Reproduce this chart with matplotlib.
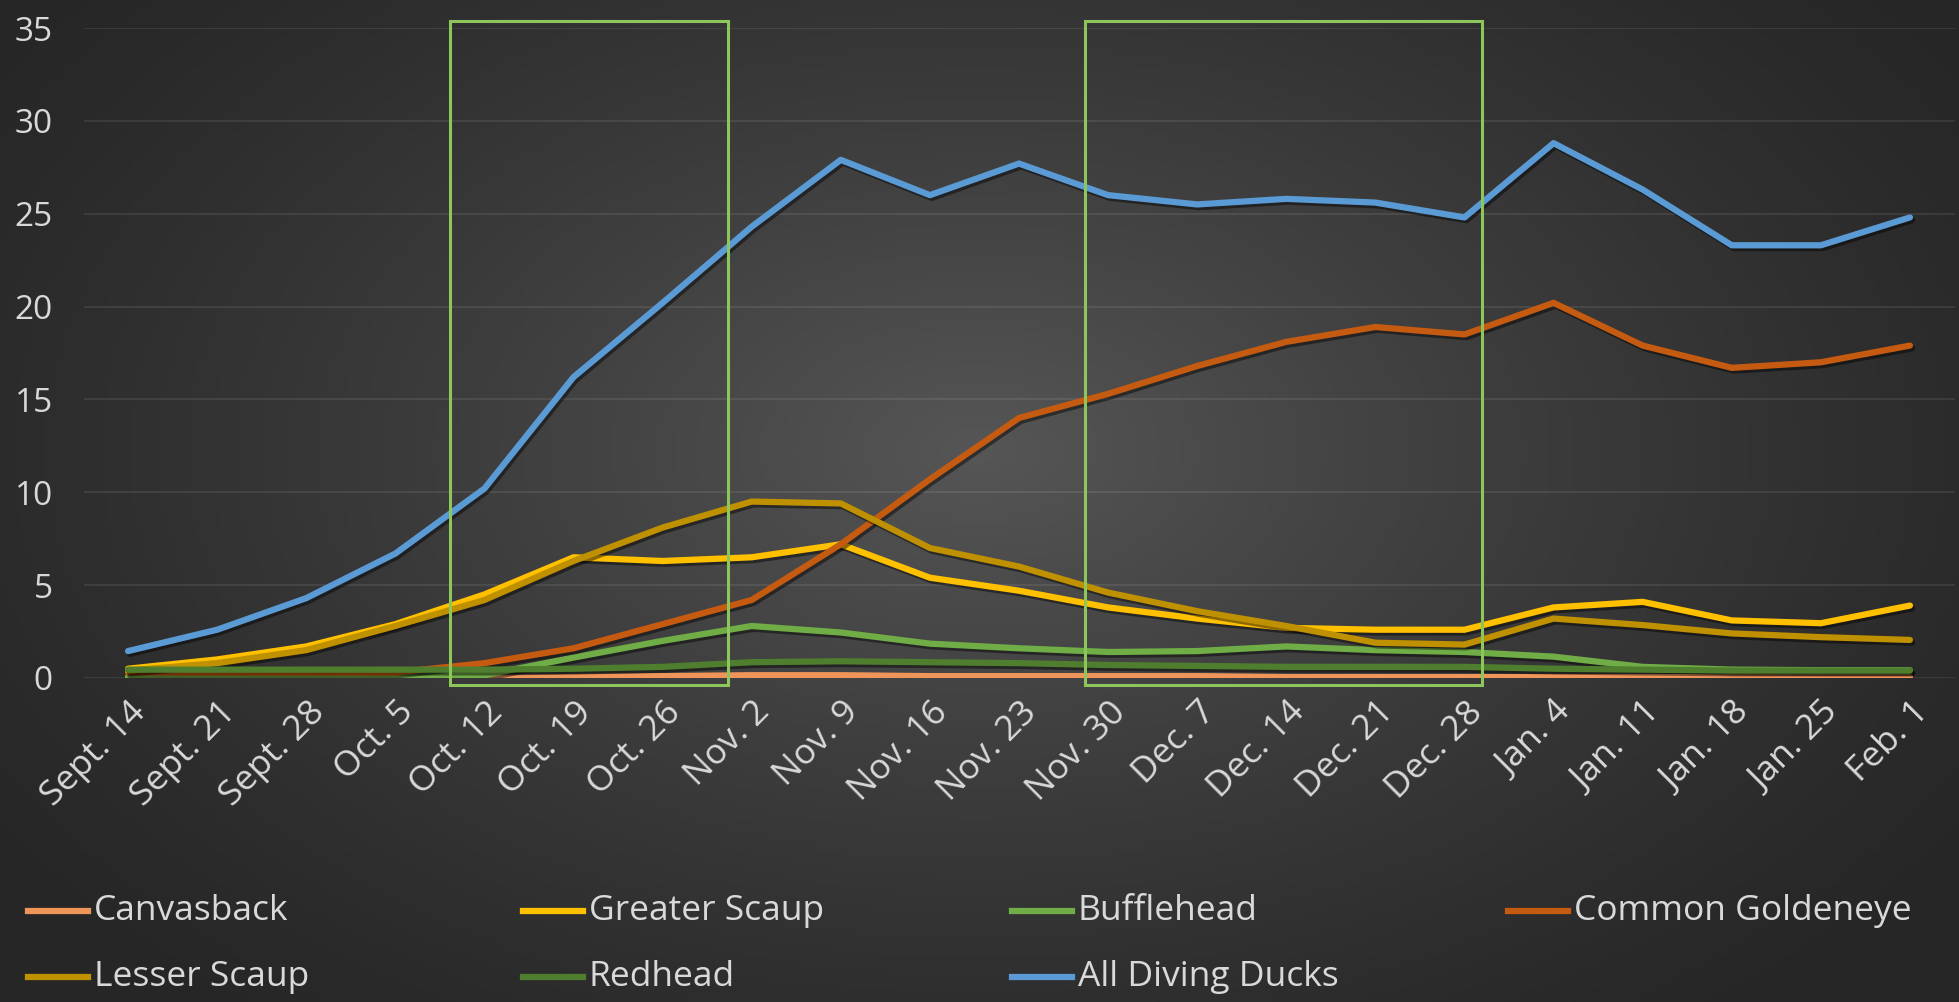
import numpy as np
import matplotlib
matplotlib.use("Agg")
import matplotlib.pyplot as plt
import matplotlib.patheffects as pe
from matplotlib.lines import Line2D
from matplotlib.patches import Rectangle
from matplotlib.transforms import ScaledTranslation

plt.rcParams['font.family'] = ['Open Sans', 'DejaVu Sans']

weeks = ['Sept. 14', 'Sept. 21', 'Sept. 28', 'Oct. 5', 'Oct. 12', 'Oct. 19', 'Oct. 26',
         'Nov. 2', 'Nov. 9', 'Nov. 16', 'Nov. 23', 'Nov. 30', 'Dec. 7', 'Dec. 14',
         'Dec. 21', 'Dec. 28', 'Jan. 4', 'Jan. 11', 'Jan. 18', 'Jan. 25', 'Feb. 1']

canvasback = [0.05, 0.05, 0.05, 0.05, 0.0, 0.05, 0.1, 0.15, 0.15, 0.1, 0.1,
              0.1, 0.1, 0.05, 0.05, 0.05, 0.05, 0.05, 0.05, 0.05, 0.05]
greater_scaup = [0.5, 1.0, 1.7, 2.9, 4.5, 6.5, 6.3, 6.5, 7.2, 5.4, 4.7,
                 3.8, 3.2, 2.7, 2.6, 2.6, 3.8, 4.1, 3.1, 2.95, 3.9]
bufflehead = [0.05, 0.05, 0.05, 0.05, 0.15, 1.1, 2.0, 2.8, 2.45, 1.85, 1.6,
              1.4, 1.45, 1.7, 1.5, 1.4, 1.15, 0.6, 0.45, 0.42, 0.42]
goldeneye = [0.3, 0.3, 0.3, 0.3, 0.8, 1.6, 2.9, 4.2, 7.2, 10.7, 14.0,
             15.3, 16.8, 18.1, 18.9, 18.5, 20.2, 17.9, 16.7, 17.0, 17.9]
lesser_scaup = [0.4, 0.8, 1.5, 2.8, 4.2, 6.3, 8.1, 9.5, 9.4, 7.0, 6.0,
                4.6, 3.6, 2.8, 1.9, 1.8, 3.2, 2.85, 2.4, 2.2, 2.05]
redhead = [0.45, 0.45, 0.45, 0.45, 0.45, 0.5, 0.6, 0.85, 0.9, 0.85, 0.8,
           0.7, 0.65, 0.6, 0.6, 0.6, 0.5, 0.45, 0.4, 0.4, 0.4]
all_diving = [1.45, 2.6, 4.3, 6.7, 10.2, 16.2, 20.2, 24.3, 27.9, 26.0, 27.7,
              26.0, 25.5, 25.8, 25.6, 24.8, 28.8, 26.3, 23.3, 23.3, 24.8]

series = [
    ('Canvasback', canvasback, '#F0955A'),
    ('Greater Scaup', greater_scaup, '#FFC000'),
    ('Bufflehead', bufflehead, '#70AD47'),
    ('Common Goldeneye', goldeneye, '#C55A11'),
    ('Lesser Scaup', lesser_scaup, '#BF9000'),
    ('Redhead', redhead, '#4F7F2E'),
    ('All Diving Ducks', all_diving, '#5B9BD5'),
]

# highlighted periods (category units)
boxes = [(3.61, 6.73), (10.74, 15.2)]
box_low, box_high = -0.38, 35.4

txt_color = '#D9D9D9'
W, H = 1959, 1002
fig = plt.figure(figsize=(W / 100, H / 100), dpi=100)

# dark radial background
bg = fig.add_axes([0, 0, 1, 1], zorder=-10)
gx, gy = np.meshgrid(np.linspace(0, 1, 400), np.linspace(0, 1, 220))
d = np.sqrt(((gx - 0.5) / 0.62) ** 2 + ((gy - 0.55) / 0.75) ** 2)
t = np.clip(1 - d, 0, 1) ** 1.3
edge = np.array([0x26, 0x26, 0x26]) / 255
center = np.array([0x56, 0x56, 0x56]) / 255
img = edge + (center - edge) * t[..., None]
bg.imshow(img, extent=[0, 1, 0, 1], aspect='auto', origin='lower')
bg.axis('off')

ax = fig.add_axes([83.5 / W, 1 - 678 / H, 1871 / W, 650 / H])
ax.set_facecolor('none')
x = np.arange(len(weeks))

for name, vals, col in series:
    ax.plot(x, vals, color=col, lw=4.5, solid_capstyle='round', zorder=3,
            path_effects=[pe.SimpleLineShadow(offset=(1.5, -2), shadow_color='black', alpha=0.45),
                          pe.Normal()])

for x0, x1 in boxes:
    ax.add_patch(Rectangle((x0, box_low), x1 - x0, box_high - box_low, fill=False,
                           edgecolor='#8DC65A', lw=2.2, zorder=4, clip_on=False))

ax.set_xlim(-0.5, len(weeks) - 0.5)
ax.set_ylim(0, 35)
ax.set_yticks(np.arange(0, 36, 5))
ax.yaxis.grid(True, color='white', alpha=0.09, lw=1.3)
ax.set_axisbelow(True)
for s in ax.spines.values():
    s.set_visible(False)

ax.set_xticks(x)
ax.set_xticklabels(weeks, rotation=45, ha='right', va='center', rotation_mode='anchor')
ax.tick_params(axis='x', length=0, pad=21, labelsize=25.5, labelcolor=txt_color)
ax.tick_params(axis='y', length=0, pad=22, labelsize=24, labelcolor=txt_color)
for lbl in ax.get_xticklabels():
    lbl.set_transform(lbl.get_transform() + ScaledTranslation(0.13, 0, fig.dpi_scale_trans))

# legend laid out in a 4-column grid like the original
col_x = [28, 523, 1012, 1508]
row_y = [911, 977]
for k, (name, vals, col) in enumerate(series):
    r, c = divmod(k, 4)
    lx = col_x[c] / W
    ly = 1 - row_y[r] / H
    fig.add_artist(Line2D([lx, lx + 60 / W], [ly, ly], color=col, lw=4.5,
                          transform=fig.transFigure))
    fig.text(lx + 66 / W, ly, name, color=txt_color, fontsize=25.5, va='center', ha='left')

fig.savefig('out.png', dpi=100)
